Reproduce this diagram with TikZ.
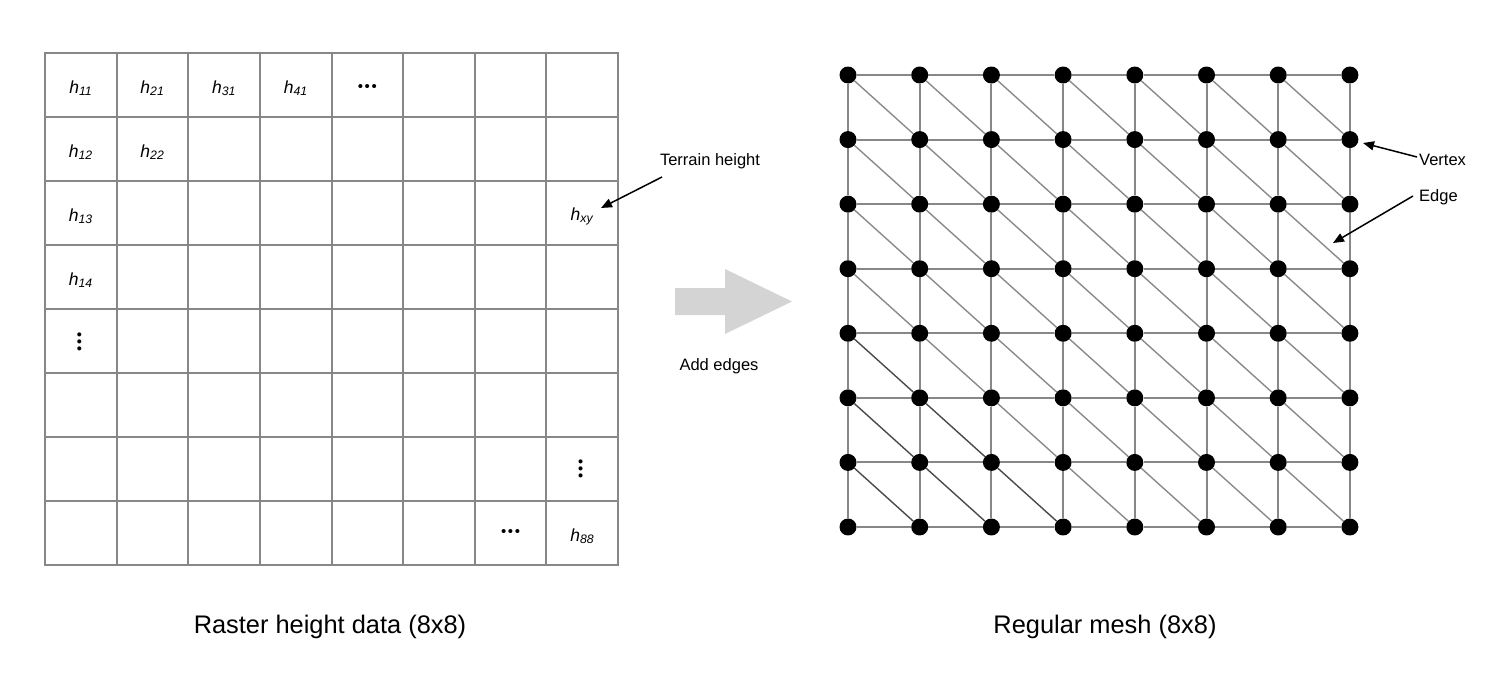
\documentclass[tikz,border=0pt]{standalone}
\usepackage{fontspec}
\setmainfont{Liberation Sans}
\usetikzlibrary{arrows.meta}
\pgfdeclarelayer{background}
\pgfsetlayers{background,main}
\definecolor{gridgray}{HTML}{878787}
\definecolor{diaggray}{HTML}{8A8A8A}
\definecolor{darkdiag}{HTML}{4A4A4A}
\definecolor{arrowgray}{HTML}{D4D4D4}
\newcommand\hsub[1]{\textit{h}\textsubscript{\textit{#1}}}
\newcommand\threedots{\textbullet\kern1.6pt\textbullet\kern1.6pt\textbullet}
\begin{document}
\begin{tikzpicture}[x=1pt,y=-1pt,
  gridline/.style={draw=gridgray,line width=2pt},
  meshedge/.style={draw=gridgray,line width=2pt},
  diagedge/.style={draw=diaggray,line width=1.4pt},
  vertexdot/.style={circle,fill=black,inner sep=0pt,minimum size=17pt},
  celllabel/.style={font=\fontsize{17.5}{20}\selectfont,anchor=base,inner sep=0pt},
  hdotslabel/.style={font=\fontsize{15}{18}\selectfont,anchor=center,inner sep=0pt},
  vdotslabel/.style={font=\fontsize{15}{18}\selectfont,anchor=center,inner sep=0pt,rotate=90},
  annot/.style={font=\fontsize{16.5}{20}\selectfont,inner sep=0pt},
  caption/.style={font=\fontsize{25.4}{30}\selectfont,anchor=base,inner sep=0pt},
  pointer/.style={draw=black,line width=1.5pt,-{Triangle[length=11pt,width=9pt]}},
]
\useasboundingbox (0,0) rectangle (1494,680);

% ---- raster grid ----
\foreach \i in {1,...,7} {
  \pgfmathsetmacro\gx{45+\i*71.625}
  \draw[gridline] (\gx,53) -- (\gx,565);
  \pgfmathsetmacro\gy{53+\i*64}
  \draw[gridline] (45,\gy) -- (618,\gy);
}
\draw[gridline] (45,53) rectangle (618,565);

% cell labels
\node[celllabel] (h11) at (80.8,93) {\hsub{11}};
\node[celllabel] (h21) at (152.4,93) {\hsub{21}};
\node[celllabel] (h31) at (224.1,93) {\hsub{31}};
\node[celllabel] (h41) at (295.7,93) {\hsub{41}};
\node[hdotslabel] (hdotsA) at (367.3,87.5) {\threedots};
\node[celllabel] (h12) at (80.8,157) {\hsub{12}};
\node[celllabel] (h22) at (152.4,157) {\hsub{22}};
\node[celllabel] (h13) at (80.8,221) {\hsub{13}};
\node[celllabel] (hxy) at (582.2,220) {\hsub{xy}};
\node[celllabel] (h14) at (80.8,285) {\hsub{14}};
\node[vdotslabel] (vdotsA) at (80.8,342) {\threedots};
\node[vdotslabel] (vdotsB) at (582.2,469) {\threedots};
\node[hdotslabel] (hdotsB) at (510.6,533) {\threedots};
\node[celllabel] (h88) at (582.2,541) {\hsub{88}};

% terrain height annotation
\node[annot,anchor=base] (terrain) at (710,165) {Terrain height};
\coordinate (terrainstart) at (662,177);
\coordinate (terraintip) at (601,208);
\draw[pointer] (terrainstart) -- (terraintip);

% ---- block arrow ----
\fill[arrowgray] (675,288) -- (725,288) -- (725,269) -- (792,301.5) -- (725,334) -- (725,315) -- (675,315) -- cycle;
\node[annot,anchor=base] (addedges) at (719,370) {Add edges};

% ---- mesh ----
\foreach \c in {0,...,7} {
  \foreach \r in {0,...,7} {
    \node[vertexdot] (v\c-\r) at ({848+71.7*\c},{75+64.57*\r}) {};
  }
}
\begin{pgfonlayer}{background}
\foreach \c in {0,...,7} {
  \foreach \r in {0,...,6} {
    \pgfmathtruncatemacro\rn{\r+1}
    \draw[meshedge] (v\c-\r) -- (v\c-\rn);
    \draw[meshedge] (v\r-\c) -- (v\rn-\c);
  }
}
\foreach \c in {0,...,6} {
  \foreach \r in {0,...,6} {
    \pgfmathtruncatemacro\cn{\c+1}
    \pgfmathtruncatemacro\rn{\r+1}
    \pgfmathtruncatemacro\isdark{and(\r>=4,\c<=\r-4)}
    \ifnum\isdark=1
      \draw[diagedge,draw=darkdiag] (v\c-\r) -- (v\cn-\rn);
    \else
      \draw[diagedge] (v\c-\r) -- (v\cn-\rn);
    \fi
  }
}
\end{pgfonlayer}

% vertex / edge annotations
\node[annot,anchor=base west] (vertexlabel) at (1419,165) {Vertex};
\coordinate (vertexstart) at (1417,157);
\coordinate (vertextip) at (1363,143);
\draw[pointer] (vertexstart) -- (vertextip);
\node[annot,anchor=base west] (edgelabel) at (1419,201) {Edge};
\coordinate (edgestart) at (1413,196);
\coordinate (edgetip) at (1333,243);
\draw[pointer] (edgestart) -- (edgetip);

% ---- captions ----
\node[caption] (rastercap) at (330,633) {Raster height data (8x8)};
\node[caption] (meshcap) at (1105,633) {Regular mesh (8x8)};
\end{tikzpicture}
\end{document}
